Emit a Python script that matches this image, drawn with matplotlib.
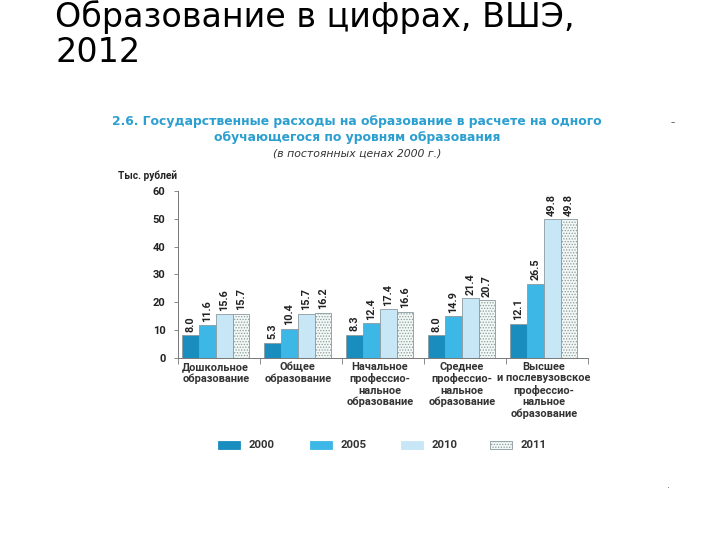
import matplotlib
matplotlib.use("Agg")
import matplotlib.pyplot as plt
import matplotlib.patches as mpatches
import numpy as np

categories = ["Дошкольное\nобразование", "Общее\nобразование",
              "Начальное\nпрофессио-\nнальное\nобразование",
              "Среднее\nпрофессио-\nнальное\nобразование",
              "Высшее\nи послевузовское\nпрофессио-\nнальное\nобразование"]
years = ["2000", "2005", "2010", "2011"]
v2000 = [8.0, 5.3, 8.3, 8.0, 12.1]
v2005 = [11.6, 10.4, 12.4, 14.9, 26.5]
v2010 = [15.6, 15.7, 17.4, 21.4, 49.8]
v2011 = [15.7, 16.2, 16.6, 20.7, 49.8]
yticks = [0, 10, 20, 30, 40, 50, 60]

series = [v2000, v2005, v2010, v2011]
colors = ["#1a8dbf", "#3db8e6", "#c7e7f6", "#f2f8f4"]
hatches = [None, None, None, "......"]

plt.rcParams['hatch.color'] = "#9cc8b8"
plt.rcParams['hatch.linewidth'] = 0.6

NARROW = ["Roboto", "DejaVu Sans"]

fig = plt.figure(figsize=(7.2, 5.4), dpi=100)
W, H = 720, 540

fig.text(55/W, 1 - 27/H, "Образование в цифрах, ВШЭ,", fontsize=24,
         family="DejaVu Sans", color="black", va="baseline", ha="left")
fig.text(55/W, 1 - 62/H, "2012", fontsize=24,
         family="DejaVu Sans", color="black", va="baseline", ha="left")

blue = "#2b9fcf"
fig.text(357/W, 1 - 121/H, "2.6. Государственные расходы на образование в расчете на одного",
         fontsize=8.9, fontweight="bold", color=blue, ha="center", va="center", family="DejaVu Sans")
fig.text(357/W, 1 - 138/H, "обучающегося по уровням образования",
         fontsize=8.9, fontweight="bold", color=blue, ha="center", va="center", family="DejaVu Sans")
fig.text(357/W, 1 - 153/H, "(в постоянных ценах 2000 г.)",
         fontsize=7.8, style="italic", color="#333333", ha="center", va="center", family="DejaVu Sans")
fig.text(118/W, 1 - 176/H, "Тыс. рублей", fontsize=7.3, fontweight="bold",
         color="#222222", ha="left", va="center", family=NARROW)

fig.text(673/W, 1 - 123/H, "–", fontsize=6, color="#444444", ha="center", va="center")
fig.text(668/W, 1 - 485/H, ".", fontsize=7, color="#666666", ha="center", va="center")

ax = fig.add_axes([178/W, 1 - 357.7/H, 410/W, (357.7 - 191)/H])
x = np.arange(len(categories))
bw = 0.205
for i, (vals, c, h) in enumerate(zip(series, colors, hatches)):
    pos = x + (i - 1.5) * bw - 0.04
    ax.bar(pos, vals, width=bw, color=c, edgecolor="#8a9aa0", linewidth=0.6,
           hatch=h, label=years[i])
    for p, v in zip(pos, vals):
        ax.text(p, v + 1.3, f"{v:.1f}", rotation=90, ha="center", va="bottom",
                fontsize=7.8, fontweight="bold", color="#222222", family=NARROW)

ax.set_xlim(-0.5, 4.5)
ax.set_ylim(0, 60)
ax.set_yticks(yticks)
ax.set_yticklabels([str(t) for t in yticks], fontsize=8, fontweight="bold",
                   family=NARROW, color="#222222")
ax.tick_params(axis="y", length=3, width=0.6, color="#777777", pad=6)
ax.set_xticks(np.arange(-0.5, 5.0, 1.0))
ax.set_xticklabels([])
ax.tick_params(axis="x", length=4, width=0.6, color="#777777")
for s in ["top", "right"]:
    ax.spines[s].set_visible(False)
for s in ["left", "bottom"]:
    ax.spines[s].set_color("#777777")
    ax.spines[s].set_linewidth(0.7)

for xi, lab in zip(x, categories):
    ax.text(xi - 0.04, -1.6, lab, ha="center", va="top", fontsize=7.9, fontweight="bold",
            color="#333333", linespacing=1.15, family=NARROW,
            transform=ax.transData)

# legend drawn manually in figure pixel coordinates
leg_x = [218, 310, 401, 490]
for xp, c, h, yr in zip(leg_x, colors, hatches, years):
    ec = "#8a9aa0" if h else c
    fig.patches.append(mpatches.Rectangle((xp/W, 1 - 449/H), 22/W, 8/H, transform=fig.transFigure,
                                          facecolor=c, edgecolor=ec, linewidth=0.6, hatch=h))
    fig.text((xp + 31)/W, 1 - 445/H, yr, fontsize=8.2, fontweight="bold", color="#333333",
             ha="left", va="center", family=NARROW)

fig.savefig("out.png", dpi=100)
